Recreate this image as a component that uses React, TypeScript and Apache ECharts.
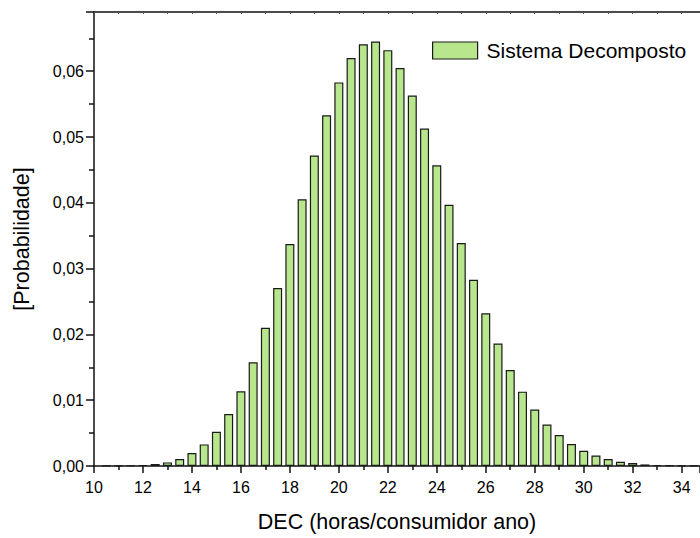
import React, { useEffect, useRef } from "react";
import * as echarts from "echarts";

const binCenters = [
  10.5, 11, 11.5, 12, 12.5, 13, 13.5, 14, 14.5, 15, 15.5, 16, 16.5, 17, 17.5,
  18, 18.5, 19, 19.5, 20, 20.5, 21, 21.5, 22, 22.5, 23, 23.5, 24, 24.5, 25,
  25.5, 26, 26.5, 27, 27.5, 28, 28.5, 29, 29.5, 30, 30.5, 31, 31.5, 32, 32.5,
  33, 33.5, 34, 34.5,
];
const probabilities = [
  0.00002, 0.00004, 0.00008, 0.00015, 0.0003, 0.00055, 0.00106, 0.00197,
  0.00328, 0.0052, 0.0079, 0.01136, 0.01576, 0.021, 0.02706, 0.03373, 0.04055,
  0.0472, 0.0533, 0.0583, 0.062, 0.0641, 0.0645, 0.0632, 0.0605, 0.0563,
  0.0513, 0.0457, 0.0397, 0.0339, 0.0283, 0.0232, 0.0186, 0.0146, 0.0113,
  0.00858, 0.0063, 0.0047, 0.00333, 0.00232, 0.0016, 0.00106, 0.00065,
  0.00045, 0.00024, 0.00015, 0.0001, 0.00005, 0.00003,
];
const seriesName = "Sistema Decomposto";
const xTitle = "DEC (horas/consumidor ano)";
const yTitle = "[Probabilidade]";

const FONT = "'Liberation Sans', Arial, sans-serif";

export default function App() {
  const ref = useRef<HTMLDivElement>(null);
  useEffect(() => {
    if (!ref.current) return;
    const chart = echarts.init(ref.current, null, { renderer: "svg" });
    const axisColor = "#111";
    chart.setOption({
      animation: false,
      backgroundColor: "#ffffff",
      textStyle: { fontFamily: FONT },
      grid: { left: 94, right: 0, top: 12, bottom: 70.5, containLabel: false },
      legend: {
        left: 432,
        top: 40,
        padding: 0,
        itemWidth: 45,
        itemHeight: 17,
        itemGap: 0,
        icon: "rect",
        textStyle: { fontSize: 21, color: "#000", fontFamily: FONT, padding: [0, 0, 0, 4] },
        itemStyle: { borderColor: "#1a1a1a", borderWidth: 1.2 },
        data: [seriesName],
      },
      xAxis: [
        {
          type: "value",
          position: "bottom",
          min: 10,
          max: 34.75,
          interval: 2,
          name: xTitle,
          nameLocation: "middle",
          nameGap: 45,
          nameTextStyle: { fontSize: 21.5, color: "#000", fontFamily: FONT },
          axisLine: { show: true, onZero: false, lineStyle: { color: axisColor, width: 1.5 } },
          axisTick: { show: true, inside: false, length: 7, lineStyle: { color: axisColor, width: 1.5 } },
          minorTick: { show: true, splitNumber: 2, length: 4, lineStyle: { color: axisColor, width: 1.5 } },
          axisLabel: { fontSize: 16, color: "#000", margin: 13, fontFamily: FONT, showMaxLabel: false },
          splitLine: { show: false },
        },
        {
          type: "value",
          position: "top",
          min: 10,
          max: 34.75,
          interval: 1,
          axisLine: { show: true, onZero: false, lineStyle: { color: axisColor, width: 1.5 } },
          axisTick: { show: true, inside: true, length: 2, lineStyle: { color: "#555", width: 1 } },
          axisLabel: { show: false },
          splitLine: { show: false },
        },
      ],
      yAxis: {
        type: "value",
        min: 0,
        max: 0.069,
        interval: 0.01,
        name: yTitle,
        nameLocation: "middle",
        nameGap: 61,
        nameTextStyle: { fontSize: 21.5, color: "#000", fontFamily: FONT },
        axisLine: { show: true, lineStyle: { color: axisColor, width: 1.5 } },
        axisTick: { show: true, inside: false, length: 8, lineStyle: { color: axisColor, width: 1.5 } },
        minorTick: { show: true, splitNumber: 2, length: 5, lineStyle: { color: axisColor, width: 1.5 } },
        axisLabel: {
          fontSize: 16,
          color: "#000",
          margin: 10,
          fontFamily: FONT,
          showMaxLabel: false,
          formatter: (v: number) => v.toFixed(2).replace(".", ","),
        },
        splitLine: { show: false },
      },
      series: [
        {
          name: seriesName,
          type: "bar",
          xAxisIndex: 0,
          barWidth: 9,
          data: binCenters.map((x, i) => [x, probabilities[i]]),
          itemStyle: { color: "#b8e68c", borderColor: "#1a1a1a", borderWidth: 1.2 },
        },
      ],
    });
    return () => chart.dispose();
  }, []);
  return (
    <div
      ref={ref}
      style={{ position: "fixed", left: 0, top: 0, width: 700, height: 538 }}
    />
  );
}
